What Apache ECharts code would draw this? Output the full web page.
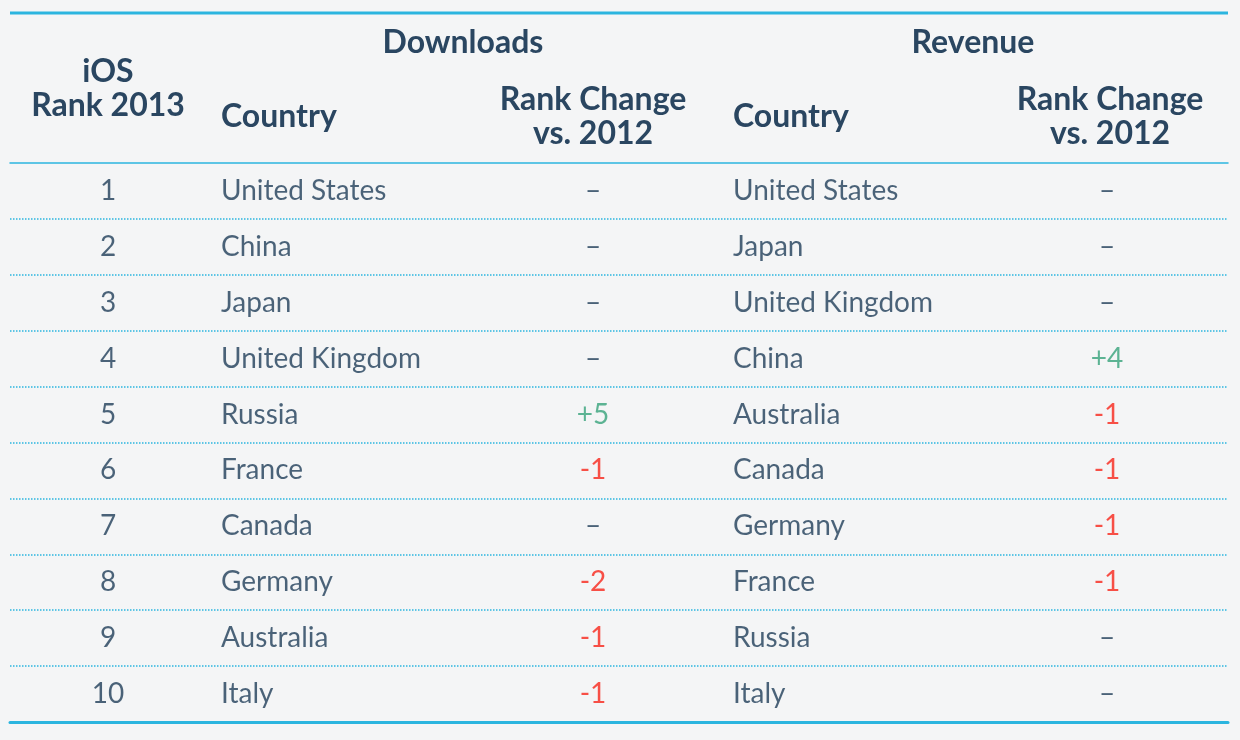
<!DOCTYPE html>
<html><head><meta charset="utf-8">
<script src="https://cdn.jsdelivr.net/npm/echarts@6/dist/echarts.min.js"></script>
<style>html,body{margin:0;padding:0;background:#f4f5f6}#c{width:1240px;height:740px}</style>
</head><body><div id="c"></div>
<script>
const ranks = [1, 2, 3, 4, 5, 6, 7, 8, 9, 10];
const dlCountries = ['United States', 'China', 'Japan', 'United Kingdom', 'Russia', 'France', 'Canada', 'Germany', 'Australia', 'Italy'];
const dlChange = ['–', '–', '–', '–', '+5', '-1', '–', '-2', '-1', '-1'];
const revCountries = ['United States', 'Japan', 'United Kingdom', 'China', 'Australia', 'Canada', 'Germany', 'France', 'Russia', 'Italy'];
const revChange = ['–', '–', '–', '+4', '-1', '-1', '-1', '-1', '–', '–'];
const groupHeaders = ['Downloads', 'Revenue'];
const colHeaders = ['iOS\nRank 2013', 'Country', 'Rank Change\nvs. 2012', 'Country', 'Rank Change\nvs. 2012'];

const NAVY = '#1f3d59', CYAN = '#2bb5df', GREEN = '#36a27a', RED = '#f8261a', FONT = 'Lato';
const GL = 10, GR = 12;
// column anchor x (in grid units = pixels from grid left)
const colX = [98, 211, 583, 723, 1097];
const colAlign = ['center', 'left', 'center', 'left', 'center'];

function changeColor(v) { return v[0] === '+' ? GREEN : (v[0] === '-' ? RED : NAVY); }

function textSeries(xPos, align, values, colorFn) {
  return {
    type: 'scatter', symbolSize: 0, silent: true,
    data: values.map((v, i) => ({ value: [xPos, i], name: String(v),
      label: { color: colorFn ? colorFn(String(v)) : NAVY } })),
    label: { show: true, position: 'inside', align: align, verticalAlign: 'middle',
      formatter: p => p.name, fontFamily: FONT, fontSize: 28, color: NAVY }
  };
}

const chart = echarts.init(document.getElementById('c'));
const headerGraphics = [];
headerGraphics.push({ type: 'line', shape: { x1: GL, y1: 13, x2: 1240 - GR, y2: 13 }, style: { stroke: CYAN, lineWidth: 3 } });
const hdrStyle = { fill: '#2a4661', font: 'bold 32px ' + FONT, textVerticalAlign: 'middle', lineHeight: 34 };
headerGraphics.push({ type: 'text', x: 463, y: 43, style: Object.assign({ text: groupHeaders[0], textAlign: 'center' }, hdrStyle) });
headerGraphics.push({ type: 'text', x: 973, y: 43, style: Object.assign({ text: groupHeaders[1], textAlign: 'center' }, hdrStyle) });
const hdrY = [89, 117, 117, 117, 117];
const hdrXAdj = [0, 0, 0, 0, 3];
colHeaders.forEach((t, i) => {
  headerGraphics.push({ type: 'text', x: GL + colX[i] + hdrXAdj[i], y: hdrY[i],
    style: Object.assign({ text: t, textAlign: colAlign[i] }, hdrStyle) });
});

chart.setOption({
  backgroundColor: '#f4f5f6',
  animation: false,
  grid: { left: GL, right: GR, top: 163, bottom: 18 },
  xAxis: [
    { type: 'value', min: 0, max: 1218, position: 'bottom', show: true,
      axisLine: { show: true, lineStyle: { color: CYAN, width: 3 } }, axisTick: { show: false },
      axisLabel: { show: false }, splitLine: { show: false } },
    { type: 'value', min: 0, max: 1218, position: 'top', show: true,
      axisLine: { show: true, lineStyle: { color: CYAN, width: 1.5 } }, axisTick: { show: false },
      axisLabel: { show: false }, splitLine: { show: false } }
  ],
  yAxis: { type: 'category', data: ranks.map(String), inverse: true, boundaryGap: true,
    axisLine: { show: false }, axisTick: { show: false }, axisLabel: { show: false },
    splitLine: { show: true, showMinLine: false, showMaxLine: false,
      lineStyle: { color: CYAN, width: 1.5, type: [1.5, 1.5] } } },
  graphic: headerGraphics,
  series: [
    textSeries(colX[0], 'center', ranks),
    textSeries(colX[1], 'left', dlCountries),
    textSeries(colX[2], 'center', dlChange, changeColor),
    textSeries(colX[3], 'left', revCountries),
    textSeries(colX[4], 'center', revChange, changeColor)
  ]
});
</script></body></html>
